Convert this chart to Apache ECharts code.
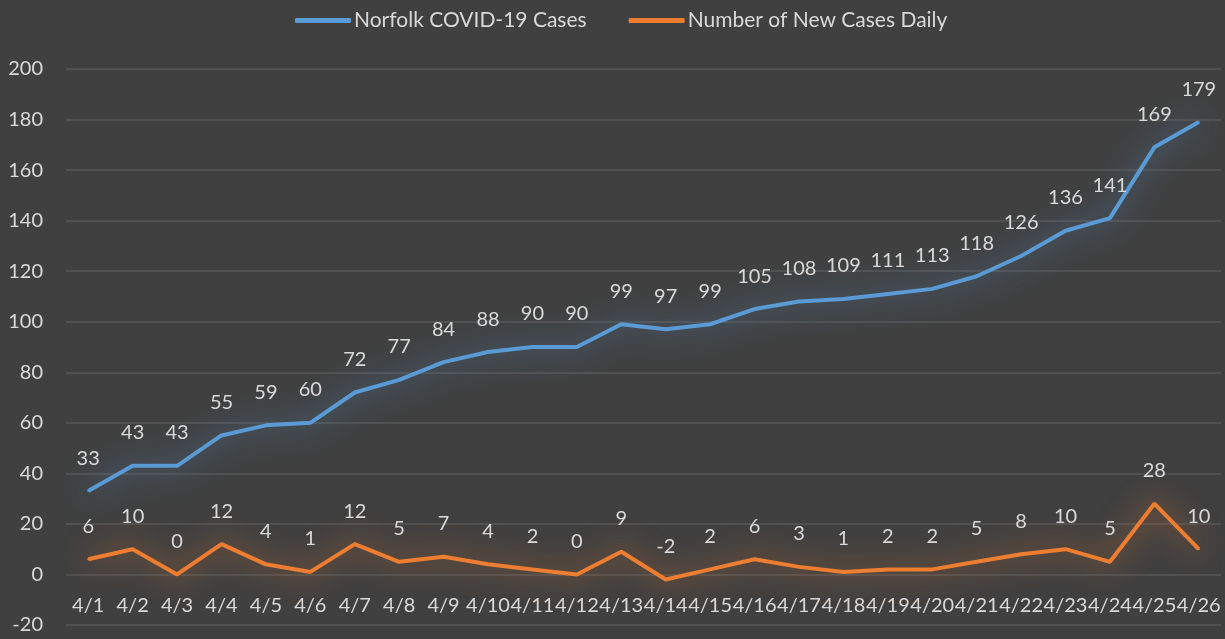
<!DOCTYPE html>
<html>
<head>
<meta charset="utf-8">
<title>Norfolk COVID-19 Cases</title>
<script src="https://cdn.jsdelivr.net/npm/echarts@6/dist/echarts.min.js"></script>
<style>
    html, body { margin: 0; padding: 0; background: #404040; }
    #chart { width: 1225px; height: 639px; }
</style>
</head>
<body>
<div id="chart"></div>
<script>
// 数据
const days = ['4/1', '4/2', '4/3', '4/4', '4/5', '4/6', '4/7', '4/8', '4/9', '4/10', '4/11', '4/12', '4/13',
    '4/14', '4/15', '4/16', '4/17', '4/18', '4/19', '4/20', '4/21', '4/22', '4/23', '4/24', '4/25', '4/26'];
const totalCases = [33, 43, 43, 55, 59, 60, 72, 77, 84, 88, 90, 90, 99,
    97, 99, 105, 108, 109, 111, 113, 118, 126, 136, 141, 169, 179];
const newCases = [6, 10, 0, 12, 4, 1, 12, 5, 7, 4, 2, 0, 9,
    -2, 2, 6, 3, 1, 2, 2, 5, 8, 10, 5, 28, 10];
const seriesNames = ['Norfolk COVID-19 Cases', 'Number of New Cases Daily'];

const textColor = '#d9d9d9';
const gridColor = '#575757';
const font = 'Lato, "Open Sans", sans-serif';

function lineSeries(name, data, color, glow) {
    return {
        name: name,
        type: 'line',
        data: data,
        symbol: 'circle',
        symbolSize: 2,
        itemStyle: { color: color },
        lineStyle: {
            color: color,
            width: 4,
            shadowColor: glow,
            shadowBlur: 30
        },
        label: {
            show: true,
            position: 'top',
            distance: 22,
            color: textColor,
            fontSize: 20,
            fontFamily: font
        }
    };
}

const chart = echarts.init(document.getElementById('chart'));
chart.setOption({
    backgroundColor: '#404040',
    textStyle: { fontFamily: font },
    legend: {
        top: 5,
        left: 290,
        itemWidth: 56,
        itemHeight: 5,
        itemGap: 42,
        icon: 'roundRect',
        textStyle: { color: textColor, fontSize: 21, fontFamily: font, padding: [0, 0, 0, -2] },
        data: seriesNames
    },
    grid: {
        left: 66,
        right: 4,
        top: 69,
        bottom: 14,
        containLabel: false,
        outerBoundsMode: 'none'
    },
    xAxis: {
        type: 'category',
        data: days,
        boundaryGap: true,
        axisLine: { show: false },
        axisTick: { show: false },
        axisLabel: {
            interval: 0,
            hideOverlap: false,
            color: textColor,
            fontSize: 20,
            margin: -29,
            fontFamily: font
        }
    },
    yAxis: {
        type: 'value',
        min: -20,
        max: 200,
        interval: 20,
        axisLine: { show: false },
        axisTick: { show: false },
        splitLine: { lineStyle: { color: gridColor, width: 1.5 } },
        axisLabel: {
            color: textColor,
            fontSize: 20,
            margin: 23,
            fontFamily: font
        }
    },
    series: [
        lineSeries(seriesNames[0], totalCases, '#5b9bd5', '#5b9bd5'),
        lineSeries(seriesNames[1], newCases, '#ed7d31', '#ed7d31')
    ]
});
</script>
</body>
</html>
